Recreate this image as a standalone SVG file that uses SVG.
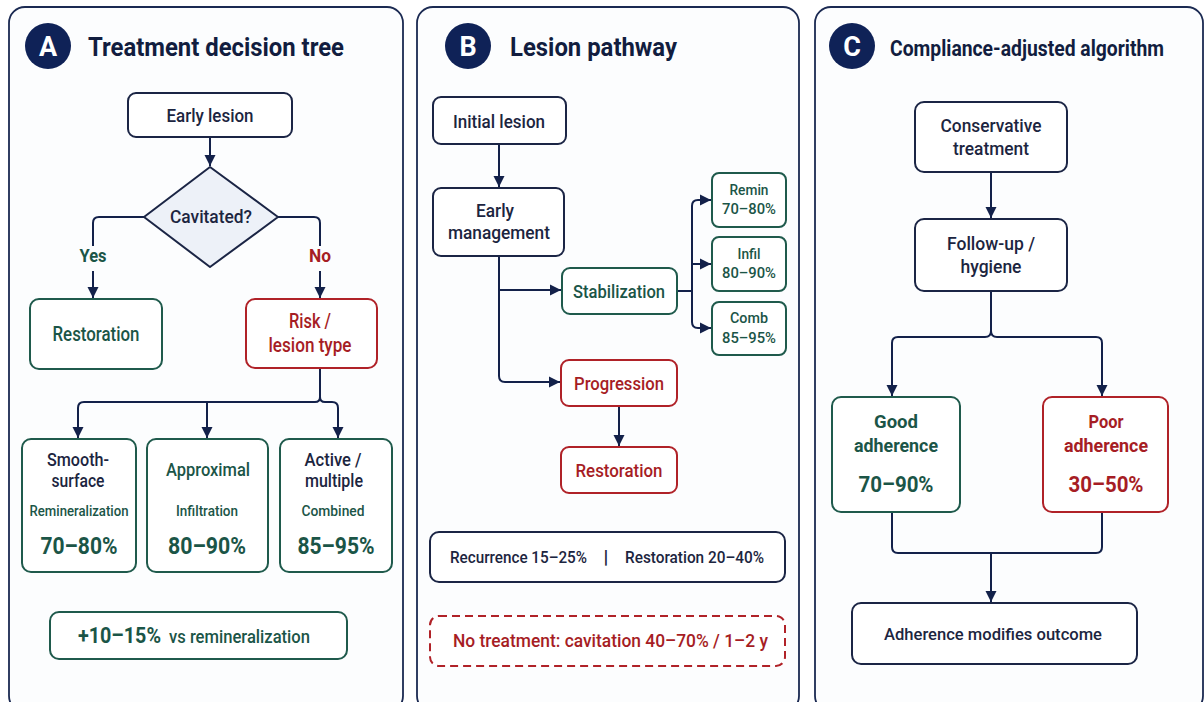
<svg xmlns="http://www.w3.org/2000/svg" width="1204" height="702" viewBox="0 0 1204 702">
<defs>
<marker id="ah" markerUnits="userSpaceOnUse" markerWidth="12" markerHeight="12" refX="11" refY="6" orient="auto">
<path d="M0,0.5 L11,6 L0,11.5 z" fill="#13214a"/>
</marker>
<style>
.panel{fill:#fcfdfe;stroke:#1b2a52;stroke-width:1.8}
.badge{fill:#0f2257}
.badgeT{font-family:Roboto,"Liberation Sans",sans-serif;font-weight:700;font-size:27px;fill:#fff;text-anchor:middle}
.title{font-family:Roboto,"Liberation Sans",sans-serif;font-weight:700;font-size:25px;fill:#121d3f}
.bn{fill:#fff;stroke:#1b2545;stroke-width:2}
.bg{fill:#fff;stroke:#1f5a4c;stroke-width:2}
.br{fill:#fff;stroke:#b02228;stroke-width:2}
.t{font-family:Roboto,"Liberation Sans",sans-serif;font-weight:500;font-size:18px;text-anchor:middle}
.n{fill:#1c2540}
.g{fill:#1b5547}
.r{fill:#a61d24}
.sm{font-size:15px}
.pc{font-weight:700;font-size:24px}
.conn path{fill:none;stroke:#13214a;stroke-width:2}
.arr{marker-end:url(#ah)}
</style>
</defs>
<rect width="1204" height="702" fill="#ffffff"/>

<!-- Panels -->
<g id="panelA">
<rect class="panel" x="9" y="7" width="394" height="705" rx="16"/>
<circle class="badge" cx="48" cy="46" r="23"/>
<text class="badgeT" x="48" y="56">A</text>
<text class="title" x="88" y="56" textLength="256" lengthAdjust="spacingAndGlyphs">Treatment decision tree</text>
</g>
<g id="panelB">
<rect class="panel" x="417" y="7" width="382" height="705" rx="16"/>
<circle class="badge" cx="468" cy="46" r="23"/>
<text class="badgeT" x="468" y="56">B</text>
<text class="title" x="510" y="56" textLength="167" lengthAdjust="spacingAndGlyphs">Lesion pathway</text>
</g>
<g id="panelC">
<rect class="panel" x="815" y="7" width="388" height="705" rx="16"/>
<circle class="badge" cx="852" cy="46" r="23"/>
<text class="badgeT" x="852" y="56">C</text>
<text class="title" x="890" y="56" style="font-size:22px" textLength="274" lengthAdjust="spacingAndGlyphs">Compliance-adjusted algorithm</text>
</g>

<!-- Connectors -->
<g id="connectors" class="conn">
<path class="arr" d="M210,137 V166"/>
<path d="M144,217 H99 Q93,217 93,223 V246"/>
<path class="arr" d="M93,271 V298"/>
<path d="M278,217 H314 Q320,217 320,223 V246"/>
<path class="arr" d="M320,271 V298"/>
<path class="arr" d="M320,368 V397 Q320,402 315,402 H84 Q78,402 78,408 V438"/>
<path class="arr" d="M320,397 Q320,402 325,402 H332 Q338,402 338,408 V438"/>
<path class="arr" d="M207,402 V438"/>

<path class="arr" d="M499,144 V187"/>
<path class="arr" d="M499,256 V376 Q499,382 505,382 H560"/>
<path class="arr" d="M499,290 H561"/>
<path d="M677,291 H692"/>
<path class="arr" d="M692,291 V206 Q692,200 698,200 H711"/>
<path class="arr" d="M692,264 H711"/>
<path class="arr" d="M692,291 V322 Q692,328 698,328 H711"/>
<path class="arr" d="M619,406 V446"/>

<path class="arr" d="M991,172 V218"/>
<path class="arr" d="M991,291 V331 Q991,337 985,337 H898 Q892,337 892,343 V396"/>
<path class="arr" d="M991,331 Q991,337 997,337 H1096 Q1102,337 1102,343 V396"/>
<path d="M892,512 V547 Q892,553 898,553 H1096 Q1102,553 1102,547 V512"/>
<path class="arr" d="M991,553 V602"/>
</g>

<!-- Panel A nodes -->
<g id="a-early">
<rect class="bn" x="128" y="93" width="164" height="44" rx="8"/>
<text class="t n" x="210" y="122" textLength="87" lengthAdjust="spacingAndGlyphs">Early lesion</text>
</g>
<g id="a-cavitated">
<polygon points="210,167 278,217 210,267 144,217" fill="#edf1f8" stroke="#1b2545" stroke-width="2" stroke-linejoin="round"/>
<text class="t n" x="211" y="223" textLength="82" lengthAdjust="spacingAndGlyphs">Cavitated?</text>
</g>
<g id="a-yes"><text class="t g" x="93" y="262" style="font-weight:700" textLength="27" lengthAdjust="spacingAndGlyphs">Yes</text></g>
<g id="a-no"><text class="t r" x="320" y="262" style="font-weight:700" textLength="22" lengthAdjust="spacingAndGlyphs">No</text></g>
<g id="a-restoration">
<rect class="bg" x="30" y="299" width="132" height="70" rx="9"/>
<text class="t g" x="96" y="341" style="font-size:20px" textLength="87" lengthAdjust="spacingAndGlyphs">Restoration</text>
</g>
<g id="a-risk">
<rect class="br" x="246" y="299" width="131" height="69" rx="9"/>
<text class="t r" x="310" y="328" style="font-size:20px" textLength="42" lengthAdjust="spacingAndGlyphs">Risk /</text>
<text class="t r" x="310" y="352" style="font-size:20px" textLength="83" lengthAdjust="spacingAndGlyphs">lesion type</text>
</g>
<g id="a-smooth">
<rect class="bg" x="22" y="439" width="114" height="133" rx="9"/>
<text class="t n" x="78" y="466" textLength="62" lengthAdjust="spacingAndGlyphs">Smooth-</text>
<text class="t n" x="78" y="487" textLength="53" lengthAdjust="spacingAndGlyphs">surface</text>
<text class="t g sm" x="79" y="516" textLength="99" lengthAdjust="spacingAndGlyphs">Remineralization</text>
<text class="t g pc" x="79" y="554" textLength="77" lengthAdjust="spacingAndGlyphs">70–80%</text>
</g>
<g id="a-approx">
<rect class="bg" x="147" y="439" width="121" height="133" rx="9"/>
<text class="t g" x="208" y="476" textLength="84" lengthAdjust="spacingAndGlyphs">Approximal</text>
<text class="t g sm" x="207" y="516" textLength="62" lengthAdjust="spacingAndGlyphs">Infiltration</text>
<text class="t g pc" x="207" y="554" textLength="78" lengthAdjust="spacingAndGlyphs">80–90%</text>
</g>
<g id="a-active">
<rect class="bg" x="280" y="439" width="112" height="133" rx="9"/>
<text class="t n" x="333" y="466" textLength="57" lengthAdjust="spacingAndGlyphs">Active /</text>
<text class="t n" x="334" y="487" textLength="58" lengthAdjust="spacingAndGlyphs">multiple</text>
<text class="t g sm" x="333" y="516" textLength="63" lengthAdjust="spacingAndGlyphs">Combined</text>
<text class="t g pc" x="336" y="554" textLength="77" lengthAdjust="spacingAndGlyphs">85–95%</text>
</g>
<g id="a-summary">
<rect class="bg" x="50" y="612" width="297" height="47" rx="9"/>
<text class="t g" x="78" y="643" style="text-anchor:start;font-weight:700;font-size:22px" textLength="83" lengthAdjust="spacingAndGlyphs">+10–15%</text>
<text class="t g" x="169" y="643" style="text-anchor:start;font-size:18px" textLength="141" lengthAdjust="spacingAndGlyphs">vs remineralization</text>
</g>

<!-- Panel B nodes -->
<g id="b-initial">
<rect class="bn" x="433" y="97" width="133" height="47" rx="8"/>
<text class="t n" x="499" y="128" textLength="92" lengthAdjust="spacingAndGlyphs">Initial lesion</text>
</g>
<g id="b-early">
<rect class="bn" x="433" y="188" width="131" height="68" rx="8"/>
<text class="t n" x="495" y="217" textLength="38" lengthAdjust="spacingAndGlyphs">Early</text>
<text class="t n" x="499" y="239" textLength="102" lengthAdjust="spacingAndGlyphs">management</text>
</g>
<g id="b-stab">
<rect class="bg" x="562" y="268" width="115" height="46" rx="8"/>
<text class="t g" x="619" y="298" textLength="92" lengthAdjust="spacingAndGlyphs">Stabilization</text>
</g>
<g id="b-remin">
<rect class="bg" x="712" y="173" width="74" height="54" rx="7"/>
<text class="t g sm" x="749" y="195" textLength="39" lengthAdjust="spacingAndGlyphs">Remin</text>
<text class="t g sm" x="749" y="214" textLength="54" lengthAdjust="spacingAndGlyphs">70–80%</text>
</g>
<g id="b-infil">
<rect class="bg" x="712" y="237" width="74" height="54" rx="7"/>
<text class="t g sm" x="749" y="259" textLength="23" lengthAdjust="spacingAndGlyphs">Infil</text>
<text class="t g sm" x="749" y="278" textLength="54" lengthAdjust="spacingAndGlyphs">80–90%</text>
</g>
<g id="b-comb">
<rect class="bg" x="712" y="302" width="74" height="53" rx="7"/>
<text class="t g sm" x="749" y="323" textLength="38" lengthAdjust="spacingAndGlyphs">Comb</text>
<text class="t g sm" x="749" y="343" textLength="54" lengthAdjust="spacingAndGlyphs">85–95%</text>
</g>
<g id="b-progression">
<rect class="br" x="561" y="360" width="116" height="46" rx="8"/>
<text class="t r" x="619" y="390" textLength="90" lengthAdjust="spacingAndGlyphs">Progression</text>
</g>
<g id="b-restoration">
<rect class="br" x="561" y="447" width="116" height="46" rx="8"/>
<text class="t r" x="619" y="477" textLength="87" lengthAdjust="spacingAndGlyphs">Restoration</text>
</g>
<g id="b-summary">
<rect class="bn" x="430" y="532" width="355" height="50" rx="9"/>
<text class="t n" x="450" y="563" style="text-anchor:start;font-size:16px" textLength="137" lengthAdjust="spacingAndGlyphs">Recurrence 15–25%</text>
<text class="t n" x="606" y="563" style="font-size:19px;font-weight:700">|</text>
<text class="t n" x="625" y="563" style="text-anchor:start;font-size:16px" textLength="139" lengthAdjust="spacingAndGlyphs">Restoration 20–40%</text>
</g>
<g id="b-notreat">
<rect x="430" y="616" width="355" height="50" rx="9" fill="#fff" stroke="#b02228" stroke-width="2" stroke-dasharray="8 5"/>
<text class="t r" x="453" y="647" style="text-anchor:start" textLength="315" lengthAdjust="spacingAndGlyphs">No treatment: cavitation 40–70% / 1–2 y</text>
</g>

<!-- Panel C nodes -->
<g id="c-conservative">
<rect class="bn" x="915" y="102" width="152" height="70" rx="9"/>
<text class="t n" x="991" y="132" textLength="101" lengthAdjust="spacingAndGlyphs">Conservative</text>
<text class="t n" x="991" y="155" textLength="76" lengthAdjust="spacingAndGlyphs">treatment</text>
</g>
<g id="c-follow">
<rect class="bn" x="915" y="219" width="152" height="72" rx="9"/>
<text class="t n" x="991" y="250" textLength="88" lengthAdjust="spacingAndGlyphs">Follow-up /</text>
<text class="t n" x="991" y="273" textLength="61" lengthAdjust="spacingAndGlyphs">hygiene</text>
</g>
<g id="c-good">
<rect class="bg" x="832" y="397" width="128" height="115" rx="9"/>
<text class="t g" x="896" y="428" style="font-weight:700" textLength="44" lengthAdjust="spacingAndGlyphs">Good</text>
<text class="t g" x="896" y="452" style="font-weight:700" textLength="84" lengthAdjust="spacingAndGlyphs">adherence</text>
<text class="t g pc" x="896" y="492" style="font-size:22px" textLength="75" lengthAdjust="spacingAndGlyphs">70–90%</text>
</g>
<g id="c-poor">
<rect class="br" x="1043" y="397" width="125" height="115" rx="9"/>
<text class="t r" x="1106" y="428" style="font-weight:700" textLength="35" lengthAdjust="spacingAndGlyphs">Poor</text>
<text class="t r" x="1106" y="452" style="font-weight:700" textLength="84" lengthAdjust="spacingAndGlyphs">adherence</text>
<text class="t r pc" x="1106" y="492" style="font-size:22px" textLength="75" lengthAdjust="spacingAndGlyphs">30–50%</text>
</g>
<g id="c-outcome">
<rect class="bn" x="852" y="603" width="285" height="61" rx="9"/>
<text class="t n" x="993" y="640" style="font-size:17px" textLength="218" lengthAdjust="spacingAndGlyphs">Adherence modifies outcome</text>
</g>
</svg>
